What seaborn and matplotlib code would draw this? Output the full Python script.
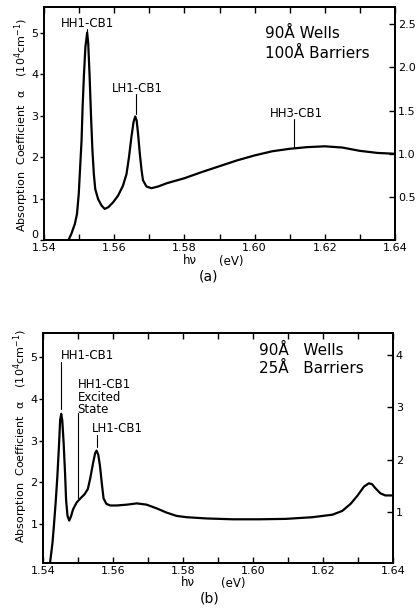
import numpy as np
import pandas as pd
import matplotlib
matplotlib.use("Agg")
import matplotlib.pyplot as plt
import seaborn as sns

# ---------------- data ----------------
energy_a = [1.5470, 1.5478, 1.5488, 1.5494, 1.5499, 1.5503, 1.5507, 1.5510,
            1.5514, 1.5518, 1.5523, 1.5526, 1.5530, 1.5534, 1.5538, 1.5542,
            1.5546, 1.5554, 1.5564, 1.5573, 1.5583, 1.5597, 1.5611, 1.5625,
            1.5635, 1.5642, 1.5649, 1.5655, 1.5660, 1.5664, 1.5668, 1.5673,
            1.5678, 1.5682, 1.5692, 1.5706, 1.5725, 1.575, 1.580, 1.585,
            1.590, 1.595, 1.600, 1.605, 1.610, 1.615, 1.620, 1.625, 1.630,
            1.635, 1.640]
alpha_a = [0.00, 0.15, 0.39, 0.63, 1.11, 1.76, 2.40, 3.21,
           4.02, 4.66, 5.00, 4.74, 3.94, 2.98, 2.16, 1.59,
           1.23, 0.99, 0.83, 0.75, 0.79, 0.91, 1.07, 1.31,
           1.59, 1.99, 2.48, 2.84, 2.98, 2.88, 2.56, 2.08,
           1.68, 1.44, 1.29, 1.25, 1.29, 1.37, 1.49, 1.64,
           1.78, 1.92, 2.04, 2.14, 2.20, 2.24, 2.26, 2.23, 2.15,
           2.10, 2.08]

energy_b = [1.5420, 1.5427, 1.5431, 1.5436, 1.5441, 1.5446, 1.5449, 1.5452,
            1.5455, 1.5459, 1.5463, 1.5466, 1.5470, 1.5475, 1.5480, 1.5486,
            1.5496, 1.5507, 1.5518, 1.5528, 1.5535, 1.5543, 1.5549, 1.5553,
            1.5558, 1.5563, 1.5568, 1.5573, 1.5581, 1.5592, 1.5611, 1.5640,
            1.5668, 1.5696, 1.5725, 1.5753, 1.5782, 1.5810, 1.5867, 1.5943,
            1.6018, 1.6094, 1.6170, 1.6227, 1.6255, 1.6279, 1.6298, 1.6317,
            1.6331, 1.6340, 1.6350, 1.6364, 1.6378, 1.6400]
alpha_b = [0.07, 0.55, 0.95, 1.50, 2.14, 2.94, 3.49, 3.64,
           3.49, 2.94, 2.22, 1.58, 1.20, 1.09, 1.19, 1.36,
           1.52, 1.62, 1.71, 1.84, 2.10, 2.46, 2.70, 2.76,
           2.66, 2.38, 1.98, 1.62, 1.49, 1.45, 1.45, 1.47,
           1.50, 1.47, 1.38, 1.28, 1.20, 1.17, 1.14, 1.12,
           1.12, 1.13, 1.17, 1.23, 1.32, 1.49, 1.68, 1.90,
           1.98, 1.96, 1.86, 1.74, 1.69, 1.69]

x_ticks = [1.54, 1.56, 1.58, 1.60, 1.62, 1.64]
x_tick_labels = ["1.54", "1.56", "1.58", "1.60", "1.62", "1.64"]
x_minor = [1.55, 1.57, 1.59, 1.61, 1.63]

left_ticks_a = [0, 1, 2, 3, 4, 5]
right_ticks_a = [0.5, 1.0, 1.5, 2.0, 2.5]
right_labels_a = ["0.5", "1.0", "1.5", "2.0", "2.5"]
left_ticks_b = [1, 2, 3, 4, 5]
right_ticks_b = [1, 2, 3, 4]

df_a = pd.DataFrame({"E": energy_a, "alpha": alpha_a})
df_b = pd.DataFrame({"E": energy_b, "alpha": alpha_b})

# ---------------- style ----------------
sns.set_style("ticks")
plt.rcParams["font.family"] = ["DejaVu Sans"]
plt.rcParams["axes.linewidth"] = 1.3
plt.rcParams["mathtext.default"] = "regular"
for k in ["text.color", "axes.labelcolor", "xtick.color", "ytick.color",
          "axes.edgecolor"]:
    plt.rcParams[k] = "black"

W, H = 416, 611
fig = plt.figure(figsize=(W / 100, H / 100), dpi=100)


def fx(px):
    return px / W


def fy(py):
    return 1 - py / H


def setup(ax, ylim, lticks, ltick_labels, rlim, rticks, rlabels):
    ax.set_xlim(1.54, 1.64)
    ax.set_ylim(*ylim)
    ax.set_xticks(x_ticks)
    ax.set_xticklabels(x_tick_labels)
    ax.set_xticks(x_minor, minor=True)
    ax.set_yticks(lticks)
    ax.set_yticklabels(ltick_labels)
    ax.tick_params(axis="x", which="both", direction="in", top=True,
                   bottom=True, length=4, width=1, labelsize=8, pad=2)
    ax.tick_params(axis="y", direction="out", length=3, width=1,
                   labelsize=8, pad=1)
    ax.set_xlabel("")
    ax.set_ylabel("")
    for s in ax.spines.values():
        s.set_visible(True)
        s.set_linewidth(1.3)
        s.set_color("black")
    ax2 = ax.twinx()
    ax2.set_ylim(*rlim)
    ax2.set_yticks(rticks)
    ax2.set_yticklabels(rlabels)
    ax2.tick_params(axis="y", direction="in", length=4, width=1,
                    labelsize=8, pad=2)
    for s in ax2.spines.values():
        s.set_linewidth(1.3)
        s.set_color("black")
    return ax2


# ---------------- panel (a) ----------------
ax_a = fig.add_axes([fx(44), fy(240), fx(351), 233 / H])
sns.lineplot(data=df_a, x="E", y="alpha", ax=ax_a, color="black",
             lw=1.6, sort=False)
setup(ax_a, (0, 5.62), left_ticks_a, [str(v) for v in left_ticks_a],
      (0, 2.70), right_ticks_a, right_labels_a)
# the "0" sits slightly above the corner, as in the original
ax_a.get_yticklabels()[0].set_verticalalignment("bottom")

ann = dict(fontsize=8.5, color="black")
ax_a.text(1.5525, 5.22, "HH1-CB1", ha="center", va="center", **ann)
ax_a.plot([1.5523, 1.5523], [5.10, 5.0], color="black", lw=0.8)
ax_a.text(1.5665, 3.66, "LH1-CB1", ha="center", va="center", **ann)
ax_a.plot([1.5661, 1.5661], [3.51, 3.05], color="black", lw=0.8)
ax_a.text(1.6120, 3.06, "HH3-CB1", ha="center", va="center", **ann)
ax_a.plot([1.6112, 1.6112], [2.93, 2.25], color="black", lw=0.8)
ax_a.text(1.6029, 4.98, "90Å Wells", ha="left", va="center", fontsize=11)
ax_a.text(1.6029, 4.50, "100Å Barriers", ha="left", va="center", fontsize=11)

fig.text(fx(22), fy(125), "Absorption  Coefficient  α    (10$^4$cm$^{-1}$)",
         rotation=90, ha="center", va="center", fontsize=8)
fig.text(fx(190), fy(261), "hν", ha="center", va="center", fontsize=8.5)
fig.text(fx(231), fy(261), "(eV)", ha="center", va="center", fontsize=8.5)
fig.text(fx(208), fy(276), "(a)", ha="center", va="center", fontsize=10)

# ---------------- panel (b) ----------------
ax_b = fig.add_axes([fx(43), fy(563), fx(350), 230 / H])
sns.lineplot(data=df_b, x="E", y="alpha", ax=ax_b, color="black",
             lw=1.6, sort=False)
setup(ax_b, (0.076, 5.57), left_ticks_b, [str(v) for v in left_ticks_b],
      (0.04, 4.41), right_ticks_b, [str(v) for v in right_ticks_b])

ax_b.text(1.5450, 5.04, "HH1-CB1", ha="left", va="center", **ann)
ax_b.plot([1.5452, 1.5452], [4.87, 3.75], color="black", lw=0.8)
ax_b.text(1.5499, 4.03, "HH1-CB1\nExcited\nState", ha="left", va="center",
          linespacing=0.95, **ann)
ax_b.plot([1.5500, 1.5500], [3.65, 1.62], color="black", lw=0.8)
ax_b.text(1.5540, 3.29, "LH1-CB1", ha="left", va="center", **ann)
ax_b.plot([1.5553, 1.5553], [3.13, 2.84], color="black", lw=0.8)
ax_b.text(1.6018, 5.16, "90Å   Wells", ha="left", va="center", fontsize=11)
ax_b.text(1.6018, 4.72, "25Å   Barriers", ha="left", va="center", fontsize=11)

fig.text(fx(21), fy(436), "Absorption  Coefficient  α    (10$^4$cm$^{-1}$)",
         rotation=90, ha="center", va="center", fontsize=8)
fig.text(fx(188), fy(583), "hν", ha="center", va="center", fontsize=8.5)
fig.text(fx(233), fy(583), "(eV)", ha="center", va="center", fontsize=8.5)
fig.text(fx(210), fy(598), "(b)", ha="center", va="center", fontsize=10)

fig.savefig("out.png", dpi=100)
